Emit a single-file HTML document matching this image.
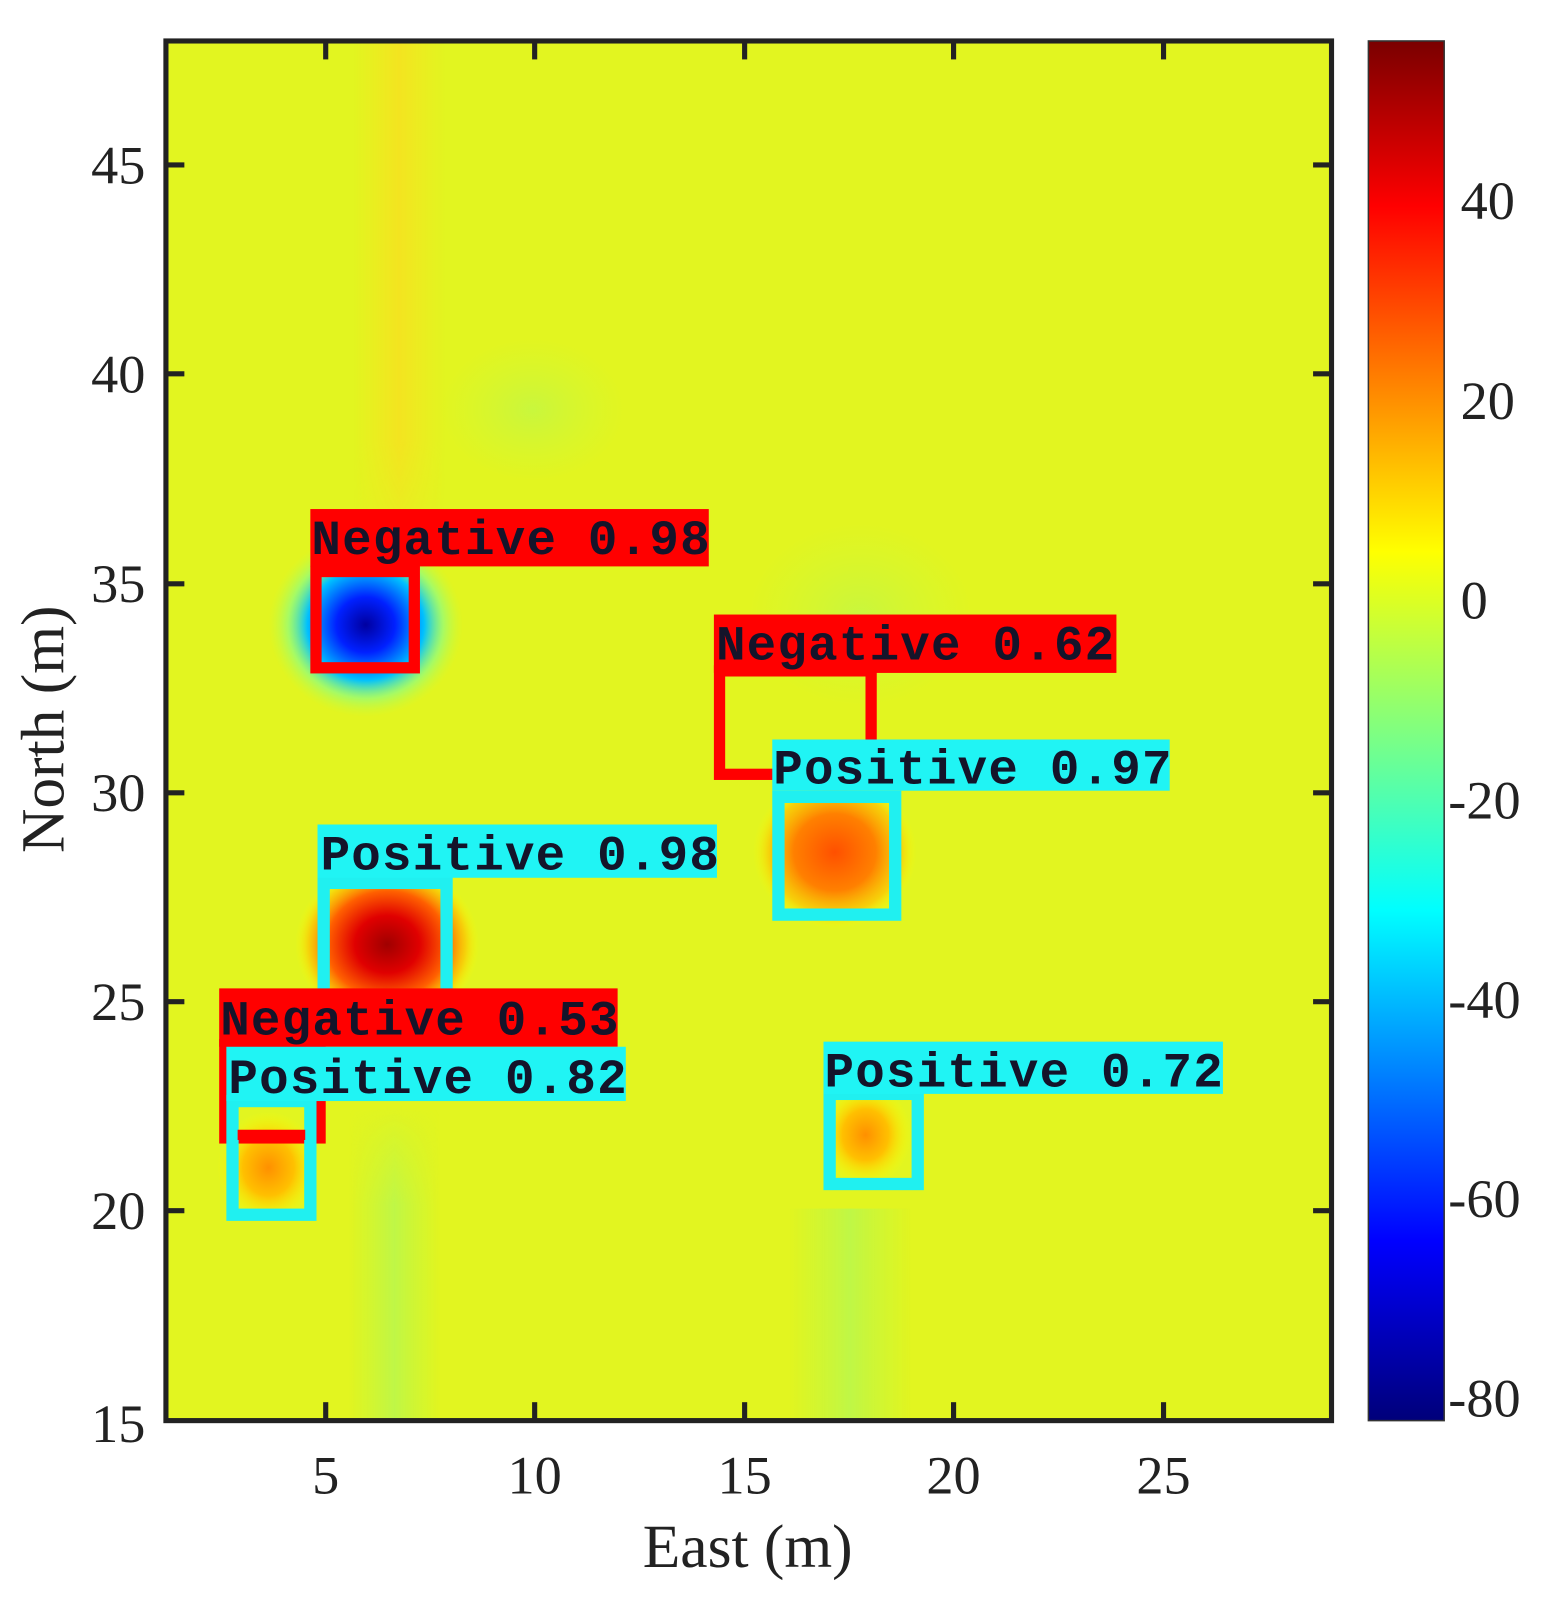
<!DOCTYPE html>
<html><head><meta charset="utf-8"><style>
html,body{margin:0;padding:0;background:#fff;}
svg{display:block;}
.tk{font-family:"Liberation Serif",serif;font-size:53px;fill:#222;}
.lb{font-family:"Liberation Mono",monospace;font-weight:bold;font-size:48px;letter-spacing:1.2px;fill:#14142a;}
</style></head><body>
<svg width="1563" height="1606" viewBox="0 0 1526 1568" preserveAspectRatio="none" xmlns="http://www.w3.org/2000/svg">
<defs>
<linearGradient id="cb" x1="0" y1="0" x2="0" y2="1">
<stop offset="0" stop-color="#7a0000"/>
<stop offset="0.12" stop-color="#ff0000"/>
<stop offset="0.37" stop-color="#ffff00"/>
<stop offset="0.5" stop-color="#80ff80"/>
<stop offset="0.63" stop-color="#00ffff"/>
<stop offset="0.87" stop-color="#0000ff"/>
<stop offset="1" stop-color="#00007a"/>
</linearGradient>
<radialGradient id="gb"><stop offset="0" stop-color="#0000a0"/><stop offset="0.3" stop-color="#0020ff"/><stop offset="0.6" stop-color="#00c0ff"/><stop offset="0.8" stop-color="#80ff90" stop-opacity="0.6"/><stop offset="1" stop-color="#c0ff40" stop-opacity="0"/></radialGradient>
<radialGradient id="gr"><stop offset="0" stop-color="#a00000"/><stop offset="0.35" stop-color="#e00000"/><stop offset="0.65" stop-color="#ff6000"/><stop offset="0.85" stop-color="#ffc000" stop-opacity="0.7"/><stop offset="1" stop-color="#ffff00" stop-opacity="0"/></radialGradient>
<radialGradient id="go"><stop offset="0" stop-color="#ff5000"/><stop offset="0.5" stop-color="#ff8000"/><stop offset="0.8" stop-color="#ffc000" stop-opacity="0.7"/><stop offset="1" stop-color="#ffff00" stop-opacity="0"/></radialGradient>
<radialGradient id="gy"><stop offset="0" stop-color="#ff9000"/><stop offset="0.5" stop-color="#ffc000"/><stop offset="1" stop-color="#ffff00" stop-opacity="0"/></radialGradient>
<radialGradient id="gg"><stop offset="0" stop-color="#b8f850" stop-opacity="0.6"/><stop offset="1" stop-color="#c8f840" stop-opacity="0"/></radialGradient>
<linearGradient id="vs" x1="0" x2="1"><stop offset="0" stop-color="#ffe020" stop-opacity="0"/><stop offset="0.5" stop-color="#ffd820" stop-opacity="0.6"/><stop offset="1" stop-color="#ffe020" stop-opacity="0"/></linearGradient>
<linearGradient id="vg" x1="0" x2="1"><stop offset="0" stop-color="#b0f850" stop-opacity="0"/><stop offset="0.5" stop-color="#a8f860" stop-opacity="0.6"/><stop offset="1" stop-color="#b0f850" stop-opacity="0"/></linearGradient>
<linearGradient id="fadeTop" x1="0" y1="0" x2="0" y2="1"><stop offset="0" stop-color="#fff" stop-opacity="0"/><stop offset="0.3" stop-color="#fff" stop-opacity="1"/><stop offset="1" stop-color="#fff" stop-opacity="1"/></linearGradient>
<mask id="mt"><rect x="0" y="1080" width="1526" height="320" fill="url(#fadeTop)"/></mask>
<linearGradient id="fadeBot" x1="0" y1="0" x2="0" y2="1"><stop offset="0" stop-color="#fff"/><stop offset="0.75" stop-color="#fff"/><stop offset="1" stop-color="#fff" stop-opacity="0"/></linearGradient>
<mask id="mb"><rect x="0" y="40" width="1526" height="520" fill="url(#fadeBot)"/></mask>
</defs>
<!-- heatmap -->
<rect x="162" y="40" width="1138" height="1347" fill="#e2f520"/>
<rect x="345" y="40" width="90" height="520" fill="url(#vs)" mask="url(#mb)"/>
<g mask="url(#mt)">
<rect x="340" y="1080" width="90" height="307" fill="url(#vg)"/>
<rect x="770" y="1180" width="120" height="207" fill="url(#vg)"/>
</g>
<ellipse cx="520" cy="400" rx="90" ry="70" fill="url(#gg)"/>
<ellipse cx="840" cy="600" rx="110" ry="90" fill="url(#gg)"/>
<ellipse cx="357" cy="610" rx="95" ry="90" fill="url(#gb)"/>
<ellipse cx="378" cy="922" rx="90" ry="80" fill="url(#gr)"/>
<ellipse cx="815" cy="832" rx="80" ry="75" fill="url(#go)"/>
<ellipse cx="845" cy="1108" rx="45" ry="50" fill="url(#gy)"/>
<ellipse cx="262" cy="1140" rx="50" ry="55" fill="url(#gy)"/>
<!-- boxes -->
<g fill="none" stroke-width="11">
<rect x="308.5" y="558" width="96" height="94" stroke="#ff0000"/>
<rect x="702.5" y="655" width="148" height="101" stroke="#ff0000"/>
<rect x="219.5" y="1020" width="93" height="91" stroke="#ff0000"/>
<rect x="760" y="778" width="114" height="115" stroke="#20f0f0" stroke-width="12"/>
<rect x="316" y="862" width="120" height="114" stroke="#20f0f0" stroke-width="12"/>
<rect x="227" y="1075" width="76" height="111" stroke="#20f0f0" stroke-width="12"/>
<rect x="810" y="1068" width="86" height="88" stroke="#20f0f0" stroke-width="12"/>
</g>
<rect x="232" y="1103" width="66" height="10" fill="#ff0000"/>
<!-- labels -->
<rect x="303" y="497" width="389" height="56" fill="#ff0000"/>
<text class="lb" x="304" y="541">Negative 0.98</text>
<rect x="697" y="600" width="393" height="57" fill="#ff0000"/>
<text class="lb" x="699" y="644">Negative 0.62</text>
<rect x="754" y="722" width="388" height="50" fill="#20f4f4"/>
<text class="lb" x="755" y="765">Positive 0.97</text>
<rect x="310" y="805" width="390" height="52" fill="#20f4f4"/>
<text class="lb" x="313" y="849">Positive 0.98</text>
<rect x="214" y="965" width="389" height="57" fill="#ff0000"/>
<text class="lb" x="215" y="1010">Negative 0.53</text>
<rect x="221" y="1022" width="390" height="53" fill="#20f4f4"/>
<text class="lb" x="223" y="1067">Positive 0.82</text>
<rect x="804" y="1017" width="390" height="51" fill="#20f4f4"/>
<text class="lb" x="805" y="1061">Positive 0.72</text>
<!-- axes -->
<rect x="162" y="40" width="1138" height="1347" fill="none" stroke="#222" stroke-width="5"/>
<g stroke="#222" stroke-width="5">
<line x1="162" y1="161" x2="180" y2="161"/><line x1="1282" y1="161" x2="1300" y2="161"/>
<line x1="162" y1="365" x2="180" y2="365"/><line x1="1282" y1="365" x2="1300" y2="365"/>
<line x1="162" y1="570" x2="180" y2="570"/><line x1="1282" y1="570" x2="1300" y2="570"/>
<line x1="162" y1="774" x2="180" y2="774"/><line x1="1282" y1="774" x2="1300" y2="774"/>
<line x1="162" y1="978" x2="180" y2="978"/><line x1="1282" y1="978" x2="1300" y2="978"/>
<line x1="162" y1="1182" x2="180" y2="1182"/><line x1="1282" y1="1182" x2="1300" y2="1182"/>
<line x1="318" y1="1387" x2="318" y2="1369"/><line x1="318" y1="40" x2="318" y2="58"/>
<line x1="522" y1="1387" x2="522" y2="1369"/><line x1="522" y1="40" x2="522" y2="58"/>
<line x1="727" y1="1387" x2="727" y2="1369"/><line x1="727" y1="40" x2="727" y2="58"/>
<line x1="931" y1="1387" x2="931" y2="1369"/><line x1="931" y1="40" x2="931" y2="58"/>
<line x1="1136" y1="1387" x2="1136" y2="1369"/><line x1="1136" y1="40" x2="1136" y2="58"/>
</g>
<g class="tk" text-anchor="end">
<text x="142" y="179">45</text><text x="142" y="383">40</text><text x="142" y="588">35</text>
<text x="142" y="792">30</text><text x="142" y="996">25</text><text x="142" y="1200">20</text>
<text x="142" y="1408">15</text>
</g>
<g class="tk" text-anchor="middle">
<text x="318" y="1458">5</text><text x="522" y="1458">10</text><text x="727" y="1458">15</text>
<text x="931" y="1458">20</text><text x="1136" y="1458">25</text>
</g>
<text class="tk" x="730" y="1530" text-anchor="middle" style="font-size:60px">East (m)</text>
<text class="tk" transform="translate(62,712) rotate(-90)" text-anchor="middle" style="font-size:60px">North (m)</text>
<!-- colorbar -->
<rect x="1336" y="40" width="74" height="1347" fill="url(#cb)"/>
<rect x="1336" y="40" width="74" height="1347" fill="none" stroke="#333" stroke-width="1.5"/>
<g class="tk" text-anchor="start">
<text x="1426" y="214">40</text><text x="1426" y="409">20</text><text x="1426" y="604">0</text>
<text x="1414" y="799">-20</text><text x="1414" y="994">-40</text><text x="1414" y="1188">-60</text>
<text x="1414" y="1383">-80</text>
</g>
</svg>
</body></html>
